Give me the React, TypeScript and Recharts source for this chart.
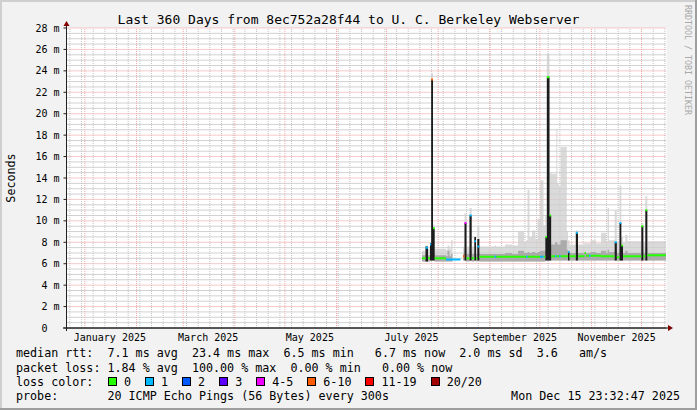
import {
  Area,
  CartesianGrid,
  ComposedChart,
  Line,
  ReferenceLine,
  XAxis,
  YAxis,
} from "recharts";

const FONT = "'DejaVu Sans Mono', monospace";
const T0 = Date.UTC(2024, 11, 20, 23, 32, 47);
const DAY = 86400000;
const SPAN_DAYS = 360;
const toDay = (t: number) => (t - T0) / DAY;

// sample times, in days since the start of the graph
const days = [
  213.3, 215.4, 216.9, 218.1, 218.8, 219.9, 220.9, 227.7, 228.6, 229.8,
  230.7, 231.6, 236.4, 237.9, 238.8, 240.0, 241.8, 243.1, 244.7, 245.7,
  246.5, 247.7, 256.8, 257.8, 263.1, 267.3, 270.9, 274.5, 275.7, 276.6,
  277.8, 279.3, 281.4, 282.6, 284.1, 286.2, 287.3, 288.2, 289.8, 290.8,
  293.1, 293.9, 294.5, 295.5, 296.4, 300.2, 300.9, 301.8, 305.6, 306.9,
  310.8, 311.7, 313.5, 314.4, 317.7, 320.7, 323.7, 324.6, 325.5, 328.9,
  330.2, 331.8, 332.9, 333.9, 335.3, 336.6, 344.9, 346.1, 347.3, 348.5,
  359.7,
];

// median rtt in ms (null = no data)
const median = [
  6.5, 7.5, 6.5, 7.8, 23.2, 9.3, 6.5, 6.4, 6.4, 6.4,
  6.4, 6.4, null, 6.7, 9.8, 6.5, 10.5, 6.5, 8.1, 6.5,
  7.6, 6.65, 6.65, 6.65, 6.65, 6.65, 6.65, 6.65, 6.65, 6.65,
  6.65, 6.65, 6.65, 6.65, 6.65, 6.65, 8.5, 23.4, 10.5, 6.7,
  6.7, 6.7, 6.7, 6.7, 6.7, 6.7, 7.1, 6.7, 8.9, 6.7,
  7.0, 6.75, 6.75, 6.75, 6.75, 6.7, 6.7, 6.7, 6.7, 8.0,
  6.6, 9.8, 7.7, 6.7, 6.7, 6.7, 9.5, 6.7, 11.0, 6.8,
  6.8,
];

// index into LOSS_COLORS, -1 = no data
const loss = [
  0, 1, 0, 1, 5, 0, 0, 1, 1, 1,
  1, 1, -1, 5, 4, 0, 1, 0, 1, 0,
  1, 0, 1, 0, 0, 0, 0, 0, 1, 0,
  0, 0, 0, 0, 1, 0, 0, 0, 0, 0,
  1, 0, 0, 1, 0, 0, 1, 0, 1, 0,
  0, 0, 1, 0, 0, 0, 0, 0, 0, 1,
  0, 1, 0, 0, 0, 0, 0, 0, 0, 0,
  0,
];

const smokeLo = [
  6.2, 6.2, 6.2, 6.3, 6.3, 6.3, 6.2, 6.2, 6.2, 6.2,
  6.2, 6.2, null, 6.3, 6.3, 6.2, 6.3, 6.2, 6.3, 6.2,
  6.3, 6.2, 6.2, 6.2, 6.2, 6.2, 6.2, 6.2, 6.2, 6.2,
  6.2, 6.2, 6.2, 6.2, 6.2, 6.2, 6.3, 6.3, 6.3, 6.3,
  6.3, 6.3, 6.3, 6.3, 6.3, 6.3, 6.3, 6.3, 6.3, 6.3,
  6.3, 6.3, 6.3, 6.3, 6.3, 6.3, 6.3, 6.3, 6.3, 6.3,
  6.3, 6.3, 6.3, 6.3, 6.3, 6.3, 6.3, 6.3, 6.3, 6.3,
  6.3,
];

const smokeMid = [
  6.8, 6.9, 6.8, 7.0, 7.0, 7.0, 6.8, 6.7, 7.2, 6.7,
  6.9, 6.7, null, 6.9, 7.2, 6.9, 7.2, 6.9, 7.0, 6.9,
  7.0, 6.9, 6.9, 6.9, 7.0, 6.9, 7.2, 7.0, 7.0, 7.1,
  7.0, 7.1, 7.0, 7.1, 7.2, 7.2, 7.3, 7.6, 7.6, 7.8,
  8.0, 8.0, 7.8, 7.8, 8.2, 7.3, 7.2, 7.0, 7.2, 7.0,
  7.0, 7.0, 7.0, 7.1, 7.0, 7.2, 7.0, 7.3, 7.1, 7.3,
  7.0, 7.5, 7.2, 7.0, 7.2, 7.0, 7.3, 7.0, 7.5, 7.0,
  7.0,
];

const smokeHi = [
  7.2, 7.7, 7.4, 8.0, 23.8, 9.6, 7.4, 7.3, 7.7, 7.4,
  8.2, 7.4, null, 7.6, 10.7, 7.6, 11.2, 7.6, 8.5, 7.6,
  9.5, 7.6, 7.7, 7.6, 7.8, 7.7, 9.0, 8.0, 8.2, 12.9,
  8.5, 9.1, 8.3, 10.2, 13.8, 9.6, 10.5, 25.6, 14.5, 14.4,
  14.4, 18.6, 13.5, 13.2, 16.9, 9.0, 8.2, 7.8, 9.1, 7.8,
  8.0, 7.9, 7.9, 8.2, 7.9, 8.9, 8.0, 11.2, 8.2, 11.0,
  8.0, 13.3, 8.5, 8.0, 8.7, 8.1, 9.8, 8.0, 12.3, 8.1,
  8.1,
];

// top of the dark smoke column under a spike (null = none)
const spikeTop = [
  null, 7.6, null, 7.9, 23.2, 9.3, null, null, null, null,
  null, null, null, null, 9.8, null, 10.5, null, 8.5, null,
  8.3, null, null, null, null, null, null, null, null, null,
  null, null, null, null, null, null, 8.5, 23.4, 10.5, null,
  null, null, null, null, null, null, 7.1, null, 8.9, null,
  null, null, null, null, null, null, null, null, null, 8.0,
  null, 9.8, 7.7, null, null, null, 9.5, null, 11.0, null,
  null,
];

const LOSS_COLORS = ["#26ff00", "#00b8ff", "#0059ff", "#5e00ff", "#ee00ff", "#ff5e00", "#ff0000", "#a10000"];
const LOSS_LABELS = ["0", "1", "2", "3", "4-5", "6-10", "11-19", "20/20"];

const yTicks = [0, 2, 4, 6, 8, 10, 12, 14, 16, 18, 20, 22, 24, 26, 28];
const xTickMonths = [0, 2, 4, 6, 8, 10];
const xTickLabels = ["January 2025", "March 2025", "May 2025", "July 2025", "September 2025", "November 2025"];

const xTickDays = xTickMonths.map((m) => toDay(Date.UTC(2025, m, 16)));
const monthStartDays = Array.from({ length: 12 }, (_, m) => toDay(Date.UTC(2025, m, 1)));
const weekDays: number[] = [];
for (let t = Date.UTC(2024, 11, 23); t <= T0 + SPAN_DAYS * DAY; t += 7 * DAY) weekDays.push(toDay(t));
const minorY: number[] = [];
for (let v = 0.5; v < 28; v += 0.5) if (v % 2 !== 0) minorY.push(v);

const rows = days.map((d, i) => {
  const lo = smokeLo[i];
  return {
    day: d,
    light: lo == null ? null : [lo, smokeHi[i]],
    mid: lo == null ? null : [lo, smokeMid[i]],
    dark: lo == null ? null : [lo, spikeTop[i] ?? lo],
  };
});

// median drawn as flat pieces, one series per loss colour, no risers
const medianPieces = LOSS_COLORS.map((_, c) => {
  const pts: { day: number; v: number | null }[] = [];
  for (let i = 0; i < days.length - 1; i++) {
    const m = median[i];
    if (loss[i] !== c || m == null) continue;
    pts.push({ day: days[i], v: m }, { day: days[i + 1], v: m }, { day: days[i + 1], v: null });
  }
  return pts;
});

const XTick = ({ x, y, payload }: any) => {
  const idx = xTickDays.findIndex((d) => Math.abs(d - payload.value) < 0.01);
  return (
    <text x={x} y={y} dy={7.5} textAnchor="middle" fontSize={10} fontFamily={FONT} fill="#000">
      {idx >= 0 ? xTickLabels[idx] : ""}
    </text>
  );
};

const YTick = ({ x, y, payload }: any) => (
  <text
    x={payload.value === 0 ? x - 12 : x}
    y={y}
    dy={3.6}
    textAnchor="end"
    fontSize={10}
    fontFamily={FONT}
    fill="#000"
  >
    {payload.value === 0 ? "0" : `${payload.value} m`}
  </text>
);

const legendText = { position: "absolute" as const, left: 16, fontSize: 11.7, lineHeight: "14px", whiteSpace: "pre" as const };

export default function App() {
  return (
    <div
      style={{
        position: "absolute",
        left: 0,
        top: 0,
        width: 697,
        height: 410,
        background: "#f2f2f2",
        fontFamily: FONT,
        color: "#000",
        overflow: "hidden",
      }}
    >
      <div style={{ position: "absolute", left: 0, top: 0 }}>
        <ComposedChart width={697} height={410} data={rows} margin={{ top: 28, right: 30.5, bottom: 62, left: 6.5 }}>
          <CartesianGrid horizontal={false} vertical={false} fill="#ffffff" />
          <XAxis
            dataKey="day"
            type="number"
            domain={[0, SPAN_DAYS]}
            allowDataOverflow
            ticks={xTickDays}
            interval={0}
            tick={<XTick />}
            tickLine={false}
            tickSize={3}
            tickMargin={2}
            height={20}
            axisLine={{ stroke: "#212121" }}
          />
          <YAxis
            type="number"
            domain={[0, 28]}
            ticks={yTicks}
            interval={0}
            tick={<YTick />}
            tickSize={3}
            tickMargin={4}
            width={60}
            axisLine={{ stroke: "#212121" }}
            tickLine={{ stroke: "#212121" }}
          />
          {minorY.map((v) => (
            <ReferenceLine key={"hy" + v} y={v} stroke="#a4a4a4" strokeDasharray="1 1" zIndex={-50} />
          ))}
          {weekDays.map((d) => (
            <ReferenceLine key={"wx" + d} x={d} stroke="#c4c4c4" strokeDasharray="1 1" zIndex={-50} />
          ))}
          {yTicks.filter((v) => v > 0).map((v) => (
            <ReferenceLine key={"my" + v} y={v} stroke="#eb9595" strokeDasharray="1 1" zIndex={-40} />
          ))}
          {monthStartDays.map((d) => (
            <ReferenceLine key={"mx" + d} x={d} stroke="#f0a8a8" strokeDasharray="1 1" zIndex={-40} />
          ))}
          <Area dataKey="light" type="stepAfter" stroke="none" fill="#cdcdcd" fillOpacity={0.75} isAnimationActive={false} />
          <Area dataKey="mid" type="stepAfter" stroke="none" fill="#ababab" fillOpacity={1} isAnimationActive={false} />
          <Area dataKey="dark" type="stepAfter" stroke="none" fill="#1c1c1c" fillOpacity={1} isAnimationActive={false} />
          {LOSS_COLORS.map((c, k) =>
            medianPieces[k].length ? (
              <Line
                key={k}
                data={medianPieces[k]}
                dataKey="v"
                type="linear"
                stroke={c}
                strokeWidth={2}
                dot={false}
                activeDot={false}
                connectNulls={false}
                isAnimationActive={false}
              />
            ) : null
          )}
        </ComposedChart>
      </div>

      <div style={{ position: "absolute", left: 0, width: 697, top: 11.5, fontSize: 13, lineHeight: "15px", textAlign: "center", whiteSpace: "pre" }}>
        Last 360 Days from 8ec752a28f44 to U. C. Berkeley Webserver
      </div>

      <div style={{ ...legendText, top: 346 }}>
        {"median rtt:  7.1 ms avg  23.4 ms max  6.5 ms min   6.7 ms now  2.0 ms sd  3.6   am/s"}
      </div>
      <div style={{ ...legendText, top: 360.5 }}>
        {"packet loss: 1.84 % avg  100.00 % max  0.00 % min   0.00 % now"}
      </div>
      <div style={{ ...legendText, top: 374.5 }}>{"loss color:"}</div>
      <div style={{ position: "absolute", left: 108, top: 374.5, display: "flex", alignItems: "center", height: 14, fontSize: 11.7, whiteSpace: "pre" }}>
        {LOSS_LABELS.map((label, k) => (
          <span key={label} style={{ display: "flex", alignItems: "center", marginRight: 14 }}>
            <span style={{ width: 7, height: 7, border: "1px solid #000", background: LOSS_COLORS[k], marginRight: 7 }} />
            <span style={{ lineHeight: "14px" }}>{label}</span>
          </span>
        ))}
      </div>
      <div style={{ ...legendText, top: 389 }}>{"probe:       20 ICMP Echo Pings (56 Bytes) every 300s"}</div>
      <div style={{ ...legendText, left: undefined, right: 17, top: 389 }}>{"Mon Dec 15 23:32:47 2025"}</div>

      <svg width={697} height={410} style={{ position: "absolute", left: 0, top: 0, pointerEvents: "none" }}>
        <rect x={0} y={0} width={697} height={2} fill="#cfcfcf" />
        <rect x={0} y={0} width={2} height={410} fill="#cfcfcf" />
        <rect x={695} y={0} width={2} height={410} fill="#9e9e9e" />
        <rect x={0} y={408} width={697} height={2} fill="#9e9e9e" />
        <line x1={63} y1={328} x2={669} y2={328} stroke="#212121" />
        <line x1={66.5} y1={331} x2={66.5} y2={25} stroke="#212121" />
        <polygon points="668,325 668,331 673,328" fill="#800000" />
        <polygon points="63.5,26 69.5,26 66.5,21" fill="#800000" />
        <text x={15} y={178} transform="rotate(-90 15 178)" textAnchor="middle" fontSize={11.7} fontFamily={FONT} fill="#000">
          Seconds
        </text>
        <text x={685} y={60} transform="rotate(90 685 60)" textAnchor="middle" fontSize={8.3} fontFamily={FONT} fill="#a8a8a8">
          RRDTOOL / TOBI OETIKER
        </text>
      </svg>
    </div>
  );
}
